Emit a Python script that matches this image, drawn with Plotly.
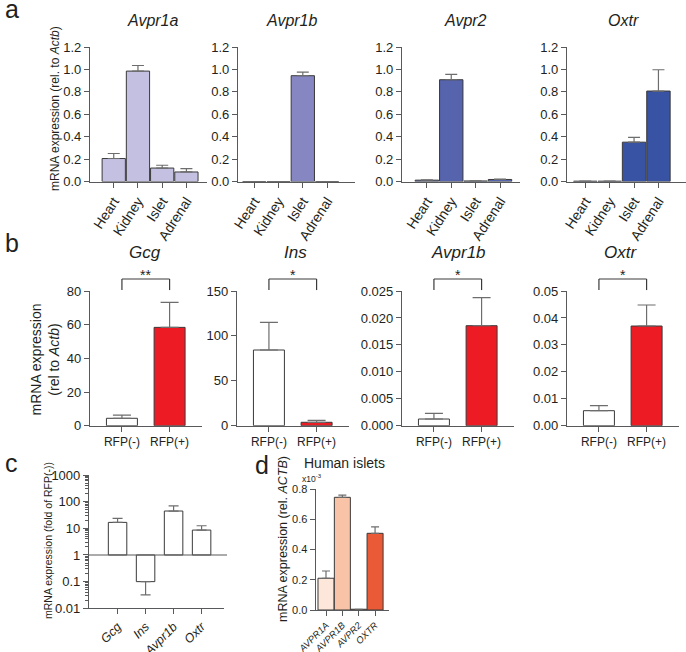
import plotly.graph_objects as go

W, H = 686, 652
FONT = 'Arial, Liberation Sans, sans-serif'
AXC = '#58595b'
TXT = '#231f20'

# ---------------- data ----------------
# panel a: mouse tissues, mRNA rel. to Actb
tissues = ['Heart', 'Kidney', 'Islet', 'Adrenal']
avpr1a = [0.205, 0.985, 0.12, 0.085]
avpr1a_err = [0.045, 0.05, 0.025, 0.03]
avpr1b = [0, 0, 0.944, 0]
avpr1b_err = [None, None, 0.032, None]
avpr2 = [0.012, 0.908, 0.005, 0.018]
avpr2_err = [0.003, 0.047, None, 0.004]
oxtr = [0.003, 0.003, 0.351, 0.807]
oxtr_err = [None, None, 0.042, 0.19]

# panel b: sorted islet cells
groups = ['RFP(-)', 'RFP(+)']
gcg = [4.4, 58.4]
gcg_err = [1.9, 14.9]
ins = [84.3, 3.8]
ins_err = [30.8, 2.2]
avpr1b_rfp = [0.00124, 0.01856]
avpr1b_rfp_err = [0.00106, 0.0052]
oxtr_rfp = [0.00557, 0.037]
oxtr_rfp_err = [0.00185, 0.0078]
stars = ['**', '*', '*', '*']

# panel c: fold of RFP(-)
genes_c = ['Gcg', 'Ins', 'Avpr1b', 'Oxtr']
fold = [16.7, 0.1, 44.5, 8.6]
fold_err_up = [7.0, 0, 25.5, 3.9]
fold_err_down = [0, 0.068, 0, 0]

# panel d: human islets (x10^-3)
human = ['AVPR1A', 'AVPR1B', 'AVPR2', 'OXTR']
human_val = [0.21, 0.745, 0.005, 0.507]
human_err = [0.048, 0.015, None, 0.043]
human_col = ['#fde6da', '#f8c3a6', '#f08a6a', '#ea5a36']


def px(x):
    return x / W


def py(y):
    return 1 - y / H


def xk(n):
    return 'xaxis' if n == 1 else 'xaxis%d' % n


def yk(n):
    return 'yaxis' if n == 1 else 'yaxis%d' % n


def xr(n):
    return 'x' if n == 1 else 'x%d' % n


def yr(n):
    return 'y' if n == 1 else 'y%d' % n


fig = go.Figure()
layout = dict(template='none', width=W, height=H,
              margin=dict(l=0, r=0, t=0, b=0, autoexpand=False),
              plot_bgcolor='white', paper_bgcolor='white', showlegend=False,
              font=dict(family=FONT, color=TXT))

line_style = dict(showline=True, linecolor=AXC, linewidth=1.2, ticks='outside',
                  tickcolor=AXC, tickwidth=1.2, ticklen=5, showgrid=False,
                  zeroline=False, fixedrange=True, automargin=False)


def set_axes(n, left, right, top, bottom, xrange, yrange, xfont, tickangle,
             yfont=13, ydtick=None, yfmt=None, ylog=False):
    layout[xk(n)] = dict(line_style, domain=[px(left), px(right)], range=xrange,
                         type='category', anchor=yr(n), tickangle=tickangle,
                         tickfont=xfont)
    ya = dict(line_style, domain=[py(bottom), py(top)], range=yrange,
              anchor=xr(n), tickfont=dict(size=yfont))
    if ylog:
        ya.update(type='log', tickvals=[0.01, 0.1, 1, 10, 100, 1000],
                  ticktext=['0.01', '0.1', '1', '10', '100', '1000'],
                  minor=dict(ticks='outside', ticklen=3, tickcolor=AXC,
                             dtick='D1'))
    else:
        ya.update(dtick=ydtick, tickformat=yfmt, tick0=0)
    layout[yk(n)] = ya


def add_bars(n, cats, vals, errs, color, width, cap, base=None):
    fig.add_trace(go.Bar(
        x=cats, y=vals, base=base, width=width,
        marker=dict(color=color, line=dict(color='#3a3a3a', width=1)),
        error_y=dict(type='data', symmetric=False, array=errs,
                     arrayminus=[0 if e is not None else None for e in errs],
                     color='#6d6d6d', thickness=1.2, width=cap),
        xaxis=xr(n), yaxis=yr(n), hoverinfo='skip'))


annotations = []
shapes = []


def label(text, x, y, size, anchor='center', **kw):
    annotations.append(dict(text=text, x=px(x), y=py(y), xref='paper', yref='paper',
                            xanchor=anchor, yanchor='middle', showarrow=False,
                            font=dict(size=size, **kw)))


# ---------------- panel a ----------------
a_cols = ['#c3c0e2', '#8686c2', '#5663ad', '#3852a4']
a_vals = [avpr1a, avpr1b, avpr2, oxtr]
a_errs = [avpr1a_err, avpr1b_err, avpr2_err, oxtr_err]
a_titles = ['Avpr1a', 'Avpr1b', 'Avpr2', 'Oxtr']
a_left = [90, 238, 402, 567]
a_right = [207, 355, 520, 686]
a_range = [[-0.98, 3.85], [-0.67, 4.15], [-1.02, 3.82], [-0.75, 4.13]]
a_title_x = [153, 292, 465, 623]
for i in range(4):
    n = i + 1
    set_axes(n, a_left[i], a_right[i], 47, 181.5, a_range[i], [0, 1.2],
             dict(size=14), -57, ydtick=0.2, yfmt='.1f')
    add_bars(n, tissues, a_vals[i], a_errs[i], a_cols[i], 0.96, 6)
    label(a_titles[i], a_title_x[i], 20, 16, style='italic')

# ---------------- panel b ----------------
b_vals = [gcg, ins, avpr1b_rfp, oxtr_rfp]
b_errs = [gcg_err, ins_err, avpr1b_rfp_err, oxtr_rfp_err]
b_titles = ['Gcg', 'Ins', 'Avpr1b', 'Oxtr']
b_left = [90, 237, 402, 567]
b_top = [80, 150, 0.025, 0.05]
b_dtick = [20, 50, 0.005, 0.01]
b_fmt = ['d', 'd', '.3f', '.2f']
b_title_x = [145, 295, 458, 620]
for i in range(4):
    n = i + 5
    set_axes(n, b_left[i], b_left[i] + 112, 291, 425.7, [-0.67, 1.68],
             [0, b_top[i]], dict(size=12), 0, ydtick=b_dtick[i], yfmt=b_fmt[i])
    add_bars(n, groups, b_vals[i], b_errs[i], ['white', '#ed1c24'], 0.65, 9)
    label(b_titles[i], b_title_x[i], 252, 17, style='italic')
    # significance bracket
    for x0, x1, y0, y1 in [(0, 0, 1.007, 1.089), (0, 1, 1.089, 1.089), (1, 1, 1.007, 1.089)]:
        shapes.append(dict(type='line', xref=xr(n), yref=yr(n) + ' domain',
                           x0=x0, x1=x1, y0=y0, y1=y1,
                           line=dict(color='#3a3a3a', width=1.2)))
    annotations.append(dict(text=stars[i], x=0.5, xref=xr(n), y=1.089,
                            yref=yr(n) + ' domain', yanchor='bottom', yshift=-6,
                            showarrow=False, font=dict(size=14)))

# ---------------- panel c ----------------
set_axes(9, 89, 224, 475, 608.3, [-1.02, 3.8], [-2, 3],
         dict(size=12.5, style='italic'), -45, ylog=True)
fig.add_trace(go.Bar(x=genes_c, y=[v - 1 for v in fold], base=1, width=0.66,
                     marker=dict(color='white', line=dict(color='#3a3a3a', width=1)),
                     xaxis='x9', yaxis='y9', hoverinfo='skip'))
fig.add_trace(go.Scatter(x=genes_c, y=fold, mode='markers',
                         marker=dict(size=1, color='rgba(0,0,0,0)'),
                         error_y=dict(type='data', symmetric=False, array=fold_err_up,
                                      arrayminus=fold_err_down, color='#6d6d6d',
                                      thickness=1.2, width=5),
                         xaxis='x9', yaxis='y9', hoverinfo='skip'))
shapes.append(dict(type='line', xref='paper', yref='y9', x0=px(89), x1=px(227),
                   y0=1, y1=1, layer='above', line=dict(color=AXC, width=1.2)))

# ---------------- panel d ----------------
set_axes(10, 315.7, 389.3, 489, 610, [-0.63, 3.87], [0, 0.8],
         dict(size=9.5, style='italic'), -45, yfont=11, ydtick=0.2, yfmt='.1f')
add_bars(10, human, human_val, human_err, human_col, 0.98, 4)
label('x10<sup>-3</sup>', 312, 478, 8.5)
label('Human islets', 302, 463, 14, anchor='left')

# ---------------- axis titles & panel letters ----------------
ylabels = [
    ('mRNA expression (rel. to <i>Actb</i>)', 55, 109, 12),
    ('mRNA expression<br>(rel to <i>Actb</i>)', 44.5, 360, 14),
    ('mRNA expression (fold of RFP(-))', 48, 541, 10.5),
    ('mRNA expression (rel. <i>ACTB</i>)', 283, 539, 12.5),
]
for text, x, y, size in ylabels:
    annotations.append(dict(text=text, x=px(x), y=py(y), xref='paper', yref='paper',
                            xanchor='center', yanchor='middle',
                            textangle=-90, showarrow=False, font=dict(size=size)))

for letter, x, y in [('a', 3, 9), ('b', 3, 243), ('c', 3, 463), ('d', 253, 465)]:
    label(letter, x, y, 25, anchor='left')

layout['annotations'] = annotations
layout['shapes'] = shapes
fig.update_layout(layout)

# the page's default 8px body margin would push the 686x652 figure off-canvas
fig.write_html("out.html", config={'displayModeBar': False},
               post_script="document.body.style.margin='0';")
